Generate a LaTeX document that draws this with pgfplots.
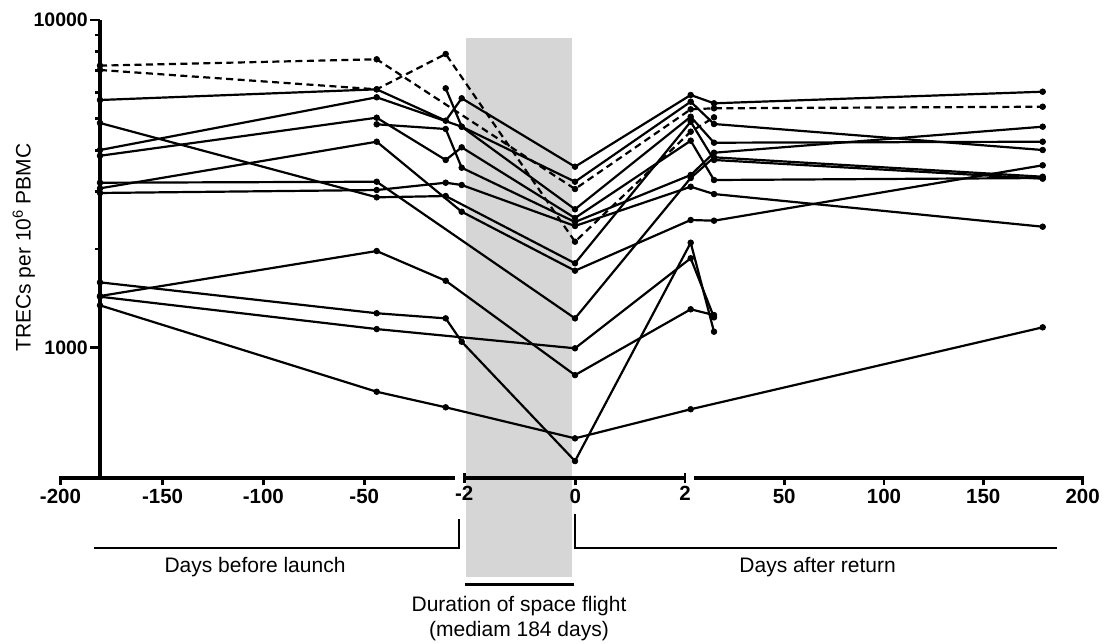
\documentclass[border=0pt]{standalone}
\usepackage{fontspec}
\setmainfont{Liberation Sans}
\usepackage{pgfplots}
\pgfplotsset{compat=1.18}
\definecolor{flightgrey}{RGB}{214,214,214}
\tikzset{
  sol/.style={black, line width=2.2pt, mark=*, mark size=2.8pt, mark options={solid, line width=0.8pt, fill=black}},
  dsh/.style={sol, dash pattern=on 7pt off 4.5pt},
}
\begin{document}
\begin{tikzpicture}
% grey band for the flight
\begin{scope}[x=1pt,y=-1pt]
\fill[flightgrey] (466,38.3) rectangle (572.3,576.7);
\end{scope}

% y axis (drawn at day -180)
\begin{axis}[
  at={(100pt,-478pt)}, anchor=south west,
  scale only axis, width=10pt, height=458pt,
  xmin=0, xmax=1,
  ymode=log, ymin=400.4, ymax=10000,
  hide x axis,
  axis y line=left,
  y axis line style={-, line width=3.2pt},
  ytick={1000,10000}, yticklabels={1000,10000},
  minor ytick={2000,3000,4000,5000,6000,7000,8000,9000},
  tick align=outside, major tick length=10pt, minor tick length=5pt,
  tick style={black, line width=2.6pt},
  yticklabel style={font=\fontsize{19.5}{22}\selectfont\bfseries, inner sep=2pt},
]
\end{axis}

% data axis
\begin{axis}[
  at={(60.5pt,-478pt)}, anchor=south west,
  scale only axis, width=1022.1pt, height=458pt,
  xmin=60.5, xmax=1082.6,
  ymode=log, ymin=400.4, ymax=10000,
  hide y axis,
  axis x line=bottom,
  x axis line style={draw=none},
  xtick={60.5,162.6,263.3,364.3,575.2,784.2,884,983.2,1082.6},
  xticklabels={-200,-150,-100,-50,0,50,100,150,200},
  extra x ticks={464.2,685.1},
  extra x tick labels={-2,2},
  extra x tick style={major tick length=10pt, tick align=center},
  tick align=outside, major tick length=7.5pt,
  tick style={black, line width=2.6pt},
  xticklabel style={font=\fontsize{20.5}{24}\selectfont\bfseries},
  clip=false,
]
% dashed subjects
\addplot[dsh] coordinates {(100,7255) (376.7,7588) (575,3050) (690.7,5339) (714,5377) (1042.7,5437)};
\addplot[dsh] coordinates {(100,7038) (376.7,6144) (445.7,7874) (575,2106) (690.7,4562) (714,5047)};
% solid subjects
\addplot[sol] coordinates {(100,5700) (376.7,6144) (445.7,4928) (461.7,5769) (575,3567) (690.7,5904) (714,5569) (1042.7,6042)};
\addplot[sol] coordinates {(100,4011) (376.7,5810) (461.7,4725) (575,3210) (690.7,5632) (714,4815) (1042.7,4011)};
\addplot[sol] coordinates {(445.7,6188) (461.7,4725) (575,2645) (690.7,5068) (714,4222) (1042.7,4252)};
\addplot[sol] coordinates {(376.7,4805) (445.7,4649) (461.7,3542) (575,2419) (690.7,3365) (714,3936) (1042.7,4725)};
\addplot[sol] coordinates {(100,3853) (376.7,5033) (445.7,3740) (461.7,4087) (575,2488) (690.7,4282) (714,3249) (1042.7,3295)};
\addplot[sol] coordinates {(100,2966) (376.7,3028) (445.7,3188) (461.7,3137) (575,2352) (690.7,3099) (714,2944) (1042.7,2340)};
\addplot[sol] coordinates {(100,4850) (376.7,2877) (445.7,2903) (575,1810) (690.7,4893) (714,3740) (1042.7,3279)};
\addplot[sol] coordinates {(100,3064) (376.7,4252) (461.7,2600) (575,1718) (690.7,2453) (714,2441) (1042.7,3603)};
\addplot[sol] coordinates {(100,3188) (376.7,3210) (575,1229) (690.7,3295) (714,3811) (1042.7,3325)};
\addplot[sol] coordinates {(100,1438) (376.7,1973) (445.7,1601) (575,825) (690.7,1310) (714,1258)};
\addplot[sol] coordinates {(100,1583) (376.7,1274) (445.7,1229) (461.7,1043) (575,451) (690.7,2091) (714,1119)};
\addplot[sol] coordinates {(100,1431) (376.7,1140) (575,996) (690.7,1875) (714,1238)};
\addplot[sol] coordinates {(100,1347) (376.7,734) (445.7,658) (575,529) (690.7,649) (1042.7,1154)};
\end{axis}

% broken x axis line, brackets and captions
\begin{scope}[x=1pt,y=-1pt]
\draw[line width=3.2pt] (59,478) -- (455.4,478);
\draw[line width=3.2pt] (464.2,478) -- (685.1,478);
\draw[line width=3.2pt] (694,478) -- (1083.9,478);
\draw[line width=2pt] (93.8,548) -- (459.2,548) -- (459.2,519);
\draw[line width=2pt] (575.2,514) -- (575.2,548) -- (1057.4,548);
\draw[line width=2.6pt] (465,584.3) -- (574,584.3);
\node[anchor=base, inner sep=0pt, font=\fontsize{21}{24}\selectfont] at (255,572.5) {Days before launch};
\node[anchor=base, inner sep=0pt, font=\fontsize{21}{24}\selectfont] at (817.6,572.5) {Days after return};
\node[anchor=base, inner sep=0pt, font=\fontsize{21}{24}\selectfont] at (519,611.5) {Duration of space flight};
\node[anchor=base, inner sep=0pt, font=\fontsize{21}{24}\selectfont] at (519,636.5) {(mediam 184 days)};
\node[rotate=90, anchor=base, inner sep=0pt, font=\fontsize{21}{24}\selectfont] at (30.5,247.5) {TRECs per 10\textsuperscript{6} PBMC};
\end{scope}
\pgfresetboundingbox
\path[use as bounding box] (0pt,0pt) rectangle (1115pt,-644pt);
\end{tikzpicture}
\end{document}
